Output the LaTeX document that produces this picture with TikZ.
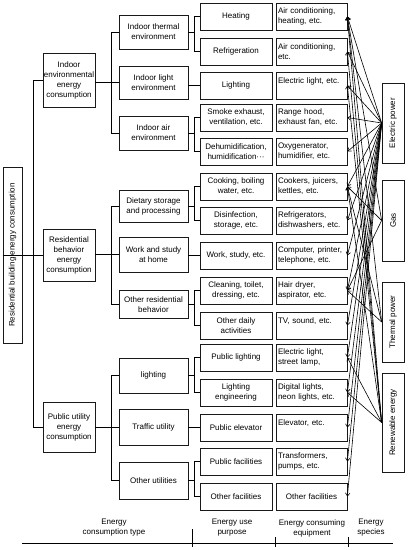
\documentclass[tikz,border=0pt]{standalone}
\usepackage{fontspec}
\setmainfont{Liberation Sans}
\usetikzlibrary{arrows.meta}
\begin{document}
\begin{tikzpicture}[x=1pt,y=-1pt,
  font=\fontsize{8}{10}\selectfont,
  line width=0.75pt,
  box/.style={draw=black!90, align=center, inner sep=0.5pt},
  lone/.style={box, minimum width=52pt},
  ltwo/.style={box, minimum width=69pt},
  lthree/.style={box, minimum width=72pt, minimum height=27pt},
  lfour/.style={draw=black!90, align=left, text width=67pt, minimum height=27pt, inner xsep=2pt, inner ysep=0.5pt},
  spec/.style={draw=black!90, rotate=90, minimum height=22pt, inner sep=0.5pt},
  lbl/.style={align=center, inner sep=0pt},
  arr/.style={-{Straight Barb[length=3pt,width=4.5pt]}, line width=0.6pt}]
\useasboundingbox (0,0) rectangle (409,550);

% main
\node[draw=black!90, rotate=90, minimum width=176pt, minimum height=19pt, inner sep=0.5pt] (main) at (12.5,255) {Residential building energy consumption};

% level 1
\node[lone, minimum height=54pt] (la) at (69,80) {Indoor\\environmental\\energy\\consumption};
\node[lone, minimum height=52pt] (lb) at (69,255) {Residential\\behavior\\energy\\consumption};
\node[lone, minimum height=50pt] (lc) at (69,427) {Public utility\\energy\\consumption};

% level 2
\node[ltwo, minimum height=34pt] (ma) at (153.5,32) {Indoor thermal\\environment};
\node[ltwo, minimum height=33pt] (mb) at (153.5,82.5) {Indoor light\\environment};
\node[ltwo, minimum height=34pt] (mc) at (153.5,133) {Indoor air\\environment};
\node[ltwo, minimum height=32pt] (md) at (153.5,206) {Dietary storage\\and processing};
\node[ltwo, minimum height=35pt] (me) at (153.5,254.5) {Work and study\\at home};
\node[ltwo, minimum height=28pt] (mf) at (153.5,304.5) {Other residential\\behavior};
\node[ltwo, minimum height=35pt] (mg) at (153.5,375.5) {lighting};
\node[ltwo, minimum height=36pt] (mh) at (153.5,427) {Traffic utility};
\node[ltwo, minimum height=37pt] (mi) at (153.5,480.5) {Other utilities};

% level 3
\node[lthree] (p1) at (236,16.5) {Heating};
\node[lthree] (p2) at (236,51.5) {Refrigeration};
\node[lthree] (p3) at (236,85.5) {Lighting};
\node[lthree] (p4) at (236,117.5) {Smoke exhaust,\\ventilation, etc.};
\node[lthree] (p5) at (236,151.5) {Dehumidification,\\humidification···};
\node[lthree] (p6) at (236,186.5) {Cooking, boiling\\water, etc.};
\node[lthree] (p7) at (236,220.5) {Disinfection,\\storage, etc.};
\node[lthree] (p8) at (236,255.5) {Work, study, etc.};
\node[lthree] (p9) at (236,290.5) {Cleaning, toilet,\\dressing, etc.};
\node[lthree] (p10) at (236,325.5) {Other daily\\activities};
\node[lthree] (p11) at (236,357.5) {Public lighting};
\node[lthree] (p12) at (236,392.5) {Lighting\\engineering};
\node[lthree] (p13) at (236,427.5) {Public elevator};
\node[lthree] (p14) at (236,461.5) {Public facilities};
\node[lthree] (p15) at (236,496.5) {Other facilities};

% level 4
\node[lfour] (e1) at (311.5,16.5) {Air conditioning,\\heating, etc.};
\node[lfour] (e2) at (311.5,51.5) {Air conditioning,\\etc.};
\node[lfour] (e3) at (311.5,85.5) {Electric light, etc.\\\mbox{}};
\node[lfour] (e4) at (311.5,117.5) {Range hood,\\exhaust fan, etc.};
\node[lfour] (e5) at (311.5,151.5) {Oxygenerator,\\humidifier, etc.};
\node[lfour] (e6) at (311.5,186.5) {Cookers, juicers,\\kettles, etc.};
\node[lfour] (e7) at (311.5,220.5) {Refrigerators,\\dishwashers, etc.};
\node[lfour] (e8) at (311.5,255.5) {Computer, printer,\\telephone, etc.};
\node[lfour] (e9) at (311.5,290.5) {Hair dryer,\\aspirator, etc.};
\node[lfour] (e10) at (311.5,325.5) {TV, sound, etc.\\\mbox{}};
\node[lfour] (e11) at (311.5,357.5) {Electric light,\\street lamp,};
\node[lfour] (e12) at (311.5,392.5) {Digital lights,\\neon lights, etc.};
\node[lfour] (e13) at (311.5,427.5) {Elevator, etc.\\\mbox{}};
\node[lfour] (e14) at (311.5,461.5) {Transformers,\\pumps, etc.};
\node[lfour, align=center] (e15) at (311.5,496.5) {Other facilities};

% species
\node[spec, minimum width=80pt] (sel) at (393,123) {Electric power};
\node[spec, minimum width=81pt] (sgas) at (393,220.5) {Gas};
\node[spec, minimum width=80pt] (sth) at (393,322) {Thermal power};
\node[spec, minimum width=99pt] (sre) at (393,422.5) {Renewable energy};

% bus coordinates
\coordinate (b1) at (33,0);
\coordinate (b2) at (111,0);
\coordinate (b3) at (194,0);

% main -> level 1
\draw (main.north) -- (main.north -| b1);
\draw (b1 |- la.west) -- (b1 |- lc.west);
\draw (b1 |- la.west) -- (la.west);
\draw (b1 |- lb.west) -- (lb.west);
\draw (b1 |- lc.west) -- (lc.west);

% level 1 -> level 2
\draw (la.east |- mb.west) -- (mb.west);
\draw (b2 |- ma.west) -- (b2 |- mc.west);
\draw (b2 |- ma.west) -- (ma.west);
\draw (b2 |- mc.west) -- (mc.west);
\draw (lb.east |- me.west) -- (me.west);
\draw (b2 |- md.west) -- (b2 |- mf.west);
\draw (b2 |- md.west) -- (md.west);
\draw (b2 |- mf.west) -- (mf.west);
\draw (lc.east |- mh.west) -- (mh.west);
\draw (b2 |- mg.west) -- (b2 |- mi.west);
\draw (b2 |- mg.west) -- (mg.west);
\draw (b2 |- mi.west) -- (mi.west);

% level 2 -> level 3
\foreach \m/\a/\b in {ma/p1/p2, mc/p4/p5, md/p6/p7, mf/p9/p10, mg/p11/p12, mi/p14/p15} {
  \draw (\m.east) -- (\m.east -| b3);
  \draw (b3 |- \a.west) -- (b3 |- \b.west);
  \draw (b3 |- \a.west) -- (\a.west);
  \draw (b3 |- \b.west) -- (\b.west);
}
\draw (mb.east |- p3.west) -- (p3.west);
\draw (me.east |- p8.west) -- (p8.west);
\draw (mh.east |- p13.west) -- (p13.west);

% energy arrows
\foreach \i in {1,...,15} \draw[arr] (sel.north) -- (e\i.east);
\foreach \i in {1,6,9} \draw[arr] (sgas.north) -- (e\i.east);
\foreach \i in {1,6,9} \draw[arr] (sth.north) -- (e\i.east);
\foreach \i in {1,2,3,6,11,12} \draw[arr] (sre.north) -- (e\i.east);

% bottom axis
\node[lbl] (t1) at (114,528) {Energy\\consumption type};
\node[lbl] (t2) at (232,528) {Energy use\\purpose};
\node[lbl] (t3) at (312,528) {Energy consuming\\equipment};
\node[lbl] (t4) at (371,528) {Energy\\species};
\coordinate (al) at (22,543);
\coordinate (ar) at (393,543);
\draw (al) -- (ar);
\coordinate (k1a) at (192,529); \coordinate (k1b) at (192,547);
\coordinate (k2a) at (275,537); \coordinate (k2b) at (275,547);
\coordinate (k3a) at (348,537); \coordinate (k3b) at (348,547);
\draw (k1a) -- (k1b);
\draw (k2a) -- (k2b);
\draw (k3a) -- (k3b);
\end{tikzpicture}
\end{document}
